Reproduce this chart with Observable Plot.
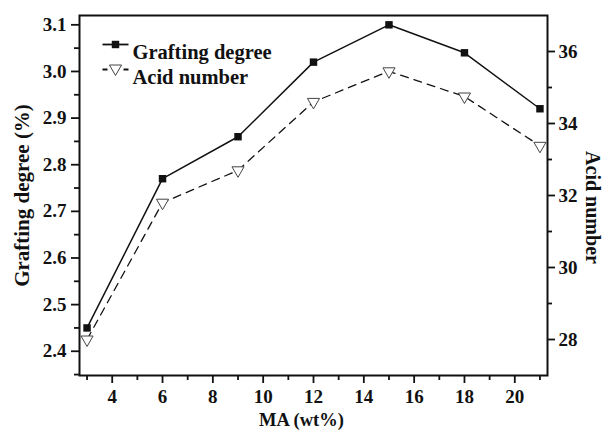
<!DOCTYPE html>
<html>
<head>
<meta charset="utf-8">
<script src="https://cdn.jsdelivr.net/npm/d3@7"></script>
<script src="https://cdn.jsdelivr.net/npm/@observablehq/plot@0.6"></script>
<style>
  html, body { margin: 0; padding: 0; background: #fff; }
</style>
</head>
<body>
<div id="chart"></div>
<script>
// MA loading (wt%) and the two measured responses
const ma = [3, 6, 9, 12, 15, 18, 21];
const graftingDegree = [2.45, 2.77, 2.86, 3.02, 3.10, 3.04, 2.92];
const acidNumber = [28.0, 31.8, 32.7, 34.6, 35.45, 34.75, 33.38];

// Axis ticks
const xMajorTicks = [4, 6, 8, 10, 12, 14, 16, 18, 20];
const xMinorTicks = [3, 5, 7, 9, 11, 13, 15, 17, 19, 21];
const gdMajorTicks = [2.4, 2.5, 2.6, 2.7, 2.8, 2.9, 3.0, 3.1];
const gdMinorTicks = [2.35, 2.45, 2.55, 2.65, 2.75, 2.85, 2.95, 3.05];
const anMajorTicks = [28, 30, 32, 34, 36];
const anMinorTicks = [29, 31, 33, 35];

// Legend entries
const legendLabels = ["Grafting degree", "Acid number"];

const rows = ma.map((m, i) => ({ma: m, gd: graftingDegree[i], an: acidNumber[i]}));

// The acid number shares the plot area through a linear map onto the left scale
const gdDomain = [2.348, 3.12];
const anDomain = [27, 37];
const anToGd = d3.scaleLinear(anDomain, gdDomain);

const font = "'Liberation Serif', 'Times New Roman', serif";
const ink = "#111";

// A short horizontal segment used as the legend line sample
const segment = {
  draw(context) {
    const h = 13;
    context.moveTo(-h, 0);
    context.lineTo(h, 0);
  }
};

const legendMarks = legendLabels.flatMap((label, i) => {
  const dy = 29 + i * 25;
  const acid = i === 1;
  return [
    Plot.dot([label], {frameAnchor: "top-left", dx: 36, dy, symbol: segment, r: 4, stroke: ink, strokeWidth: 1.8,
      strokeDasharray: acid ? "5,16,5" : null}),
    Plot.dot([label], acid
      ? {frameAnchor: "top-left", dx: 36, dy: dy - 1, symbol: "triangle", rotate: 180, r: 4.5, fill: "white", stroke: "#444", strokeWidth: 1}
      : {frameAnchor: "top-left", dx: 36, dy, symbol: "square", r: 4.2, fill: ink}),
    Plot.text([label], {frameAnchor: "top-left", dx: 53, dy, text: d => d, textAnchor: "start",
      fontSize: 20.5, fontWeight: "bold", fill: ink})
  ];
});

const chart = Plot.plot({
  width: 605,
  height: 439,
  marginLeft: 79,
  marginRight: 58,
  marginTop: 15,
  marginBottom: 64,
  style: {fontFamily: font, fontSize: "19px", fontWeight: "bold", background: "white", color: ink},
  x: {domain: [2.7, 21.3]},
  y: {domain: gdDomain},
  marks: [
    // bottom axis
    Plot.axisX(xMajorTicks, {tickSize: 8, tickPadding: 6, strokeWidth: 1.8, fontSize: 19, label: null, tickFormat: d3.format("d")}),
    Plot.axisX(xMinorTicks, {tickSize: 5, strokeWidth: 1.8, label: null, tickFormat: () => ""}),
    // left axis: grafting degree
    Plot.axisY(gdMajorTicks, {anchor: "left", tickSize: 8, tickPadding: 5, strokeWidth: 1.8, fontSize: 19, label: null, tickFormat: d3.format(".1f")}),
    Plot.axisY(gdMinorTicks, {anchor: "left", tickSize: 5, strokeWidth: 1.8, label: null, tickFormat: () => ""}),
    // right axis: acid number
    Plot.axisY(anMajorTicks.map(anToGd), {anchor: "right", tickSize: 7, tickPadding: 4, strokeWidth: 1.8, fontSize: 19, label: null,
      tickFormat: d => d3.format("d")(Math.round(anToGd.invert(d)))}),
    Plot.axisY(anMinorTicks.map(anToGd), {anchor: "right", tickSize: 4, strokeWidth: 1.8, label: null, tickFormat: () => ""}),
    // axis titles
    Plot.text(["Grafting degree (%)"], {frameAnchor: "left", dx: -57, rotate: -90, textAnchor: "middle", fontSize: 21, fontWeight: "bold", fill: ink}),
    Plot.text(["Acid number"], {frameAnchor: "right", dx: 45, dy: 12, rotate: 90, textAnchor: "middle", fontSize: 20, fontWeight: "bold", fill: ink}),
    Plot.text(["MA (wt%)"], {frameAnchor: "bottom", dx: -12, dy: 50, textAnchor: "middle", fontSize: 18.5, fontWeight: "bold", fill: ink}),
    // series
    Plot.line(rows, {x: "ma", y: "gd", stroke: ink, strokeWidth: 1.5}),
    Plot.line(rows, {x: "ma", y: d => anToGd(d.an), stroke: ink, strokeWidth: 1.3, strokeDasharray: "8,6"}),
    Plot.dot(rows, {x: "ma", y: "gd", symbol: "square", r: 4.2, fill: ink}),
    Plot.dot(rows, {x: "ma", y: d => anToGd(d.an), symbol: "triangle", rotate: 180, r: 4.5, fill: "white", stroke: "#444", strokeWidth: 1}),
    // legend
    ...legendMarks,
    Plot.frame({stroke: ink, strokeWidth: 2})
  ]
});

document.getElementById("chart").append(chart);
</script>
</body>
</html>
